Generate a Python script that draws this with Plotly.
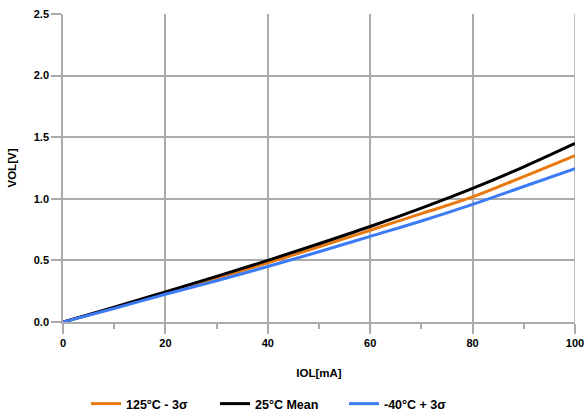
import plotly.graph_objects as go

iol = [0, 10, 20, 30, 40, 50, 60, 70, 80, 90, 100]
vol_125_m3s = [0, 0.115, 0.235, 0.355, 0.48, 0.61, 0.745, 0.88, 1.015, 1.18, 1.35]
vol_25_mean = [0, 0.12, 0.245, 0.37, 0.5, 0.635, 0.775, 0.925, 1.085, 1.26, 1.45]
vol_m40_p3s = [0, 0.11, 0.225, 0.335, 0.45, 0.57, 0.695, 0.82, 0.955, 1.1, 1.245]

names = ["125°C - 3σ", "25°C Mean", "-40°C + 3σ"]
colors = ["#E8790F", "#000000", "#3B7BF6"]

fig = go.Figure()
for name, ys, c in zip(names, [vol_125_m3s, vol_25_mean, vol_m40_p3s], colors):
    fig.add_trace(go.Scatter(x=iol, y=ys, mode="lines", name="<b>" + name + "</b>",
                             line=dict(color=c, width=3, shape="spline")))

grid = "#ABABAB"
fam = "Liberation Sans, Arial, sans-serif"
W, H = 587, 414
fig.update_layout(
    width=W, height=H,
    margin=dict(l=63, r=12, t=14, b=92, autoexpand=False),
    paper_bgcolor="white", plot_bgcolor="white",
    font=dict(family=fam, size=11, color="#000"),
    showlegend=True,
    legend=dict(orientation="h", x=86 / W, xanchor="left", xref="container",
                y=10 / H, yanchor="middle", yref="container",
                font=dict(size=12.5, color="#000"), traceorder="normal",
                entrywidth=84, entrywidthmode="pixels"),
    xaxis=dict(range=[0, 100], dtick=20, tick0=0, showgrid=True, gridcolor=grid, gridwidth=1.6,
               showline=True, linecolor=grid, linewidth=1.6,
               ticks="outside", ticklen=10, tickcolor=grid, tickwidth=1.6,
               minor=dict(dtick=10, ticks="outside", ticklen=5, tickcolor=grid, tickwidth=1.6, showgrid=False),
               tickprefix="<b>", ticksuffix="</b>", ticklabeloverflow="allow",
               tickfont=dict(size=11, family=fam),
               title=dict(text="<b>IOL[mA]</b>", font=dict(size=11.5), standoff=21),
               zeroline=False, automargin=False),
    yaxis=dict(range=[0, 2.5], dtick=0.5, tickformat=".1f", showgrid=True, gridcolor=grid, gridwidth=1.6,
               showline=True, linecolor=grid, linewidth=1.6,
               ticks="outside", ticklen=10, tickcolor=grid, tickwidth=1.6,
               tickprefix="<b>", ticksuffix="</b>", ticklabeloverflow="allow",
               tickfont=dict(size=11, family=fam),
               title=dict(text="<b>VOL[V]</b>", font=dict(size=11.5), standoff=15),
               zeroline=False, automargin=False),
)
fig.add_shape(type="line", xref="x", yref="paper", x0=100, x1=100, y0=0, y1=1,
              line=dict(color=grid, width=1.6), layer="below")
fig.write_html("out.html", config={"displayModeBar": False},
               post_script="document.body.style.margin='0';document.body.style.overflow='hidden';")
